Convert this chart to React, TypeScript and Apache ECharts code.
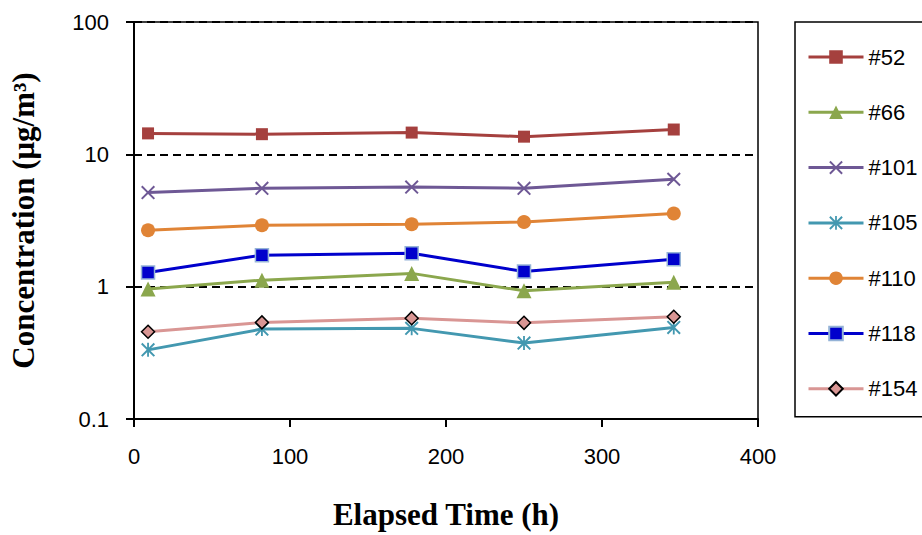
import React, { useEffect, useRef } from "react";
import * as echarts from "echarts";

const times = [9, 82, 178, 250, 346];
const seriesNames = ["#52", "#66", "#101", "#105", "#110", "#118", "#154"];
const s52 = [14.4, 14.2, 14.6, 13.6, 15.4];
const s66 = [0.96, 1.12, 1.26, 0.93, 1.08];
const s101 = [5.14, 5.54, 5.66, 5.54, 6.48];
const s105 = [0.333, 0.478, 0.484, 0.375, 0.492];
const s110 = [2.67, 2.91, 2.96, 3.08, 3.57];
const s118 = [1.28, 1.73, 1.79, 1.3, 1.61];
const s154 = [0.456, 0.537, 0.578, 0.533, 0.592];
const xTicks = [0, 100, 200, 300, 400];
const yTicks = [0.1, 1, 10, 100];

const X_PATH =
  "path://M0,1 L1,0 L5,4 L9,0 L10,1 L6,5 L10,9 L9,10 L5,6 L1,10 L0,9 L4,5 Z";
const STAR_PATH =
  "path://M0,1 L1,0 L5,4 L9,0 L10,1 L6,5 L10,9 L9,10 L5,6 L1,10 L0,9 L4,5 Z M4.35,0 L5.65,0 L5.65,10 L4.35,10 Z";

const SANS = "'Liberation Sans', Arial, sans-serif";
const SERIF = "'Liberation Serif', 'Times New Roman', serif";

export default function App() {
  const ref = useRef<HTMLDivElement>(null);
  useEffect(() => {
    if (!ref.current) return;
    const chart = echarts.init(ref.current, undefined, { renderer: "svg" });
    const pair = (vals: number[]) => times.map((t, i) => [t, vals[i]]);
    const mk = (
      name: string,
      vals: number[],
      color: string,
      symbol: string,
      size: number,
      itemStyle: any
    ) => ({
      name,
      type: "line",
      data: pair(vals),
      symbol,
      symbolSize: size,
      lineStyle: { color, width: 3 },
      itemStyle: { color, ...itemStyle },
      emphasis: { disabled: true },
    });
    const option: any = {
      animation: false,
      backgroundColor: "#fff",
      grid: {
        left: 133.5,
        right: 164,
        top: 22,
        bottom: 114,
        show: true,
        borderColor: "#000",
        borderWidth: 1.5,
        backgroundColor: "transparent",
      },
      legend: {
        orient: "vertical",
        left: 795,
        top: 22,
        padding: [24, 6, 17, 12],
        itemGap: 33.3,
        itemWidth: 55,
        itemHeight: 17,
        borderColor: "#000",
        borderWidth: 1.5,
        data: seriesNames,
        lineStyle: { width: 3 },
        textStyle: {
          fontSize: 22,
          lineHeight: 20,
          color: "#000",
          fontFamily: SANS,
        },
      },
      xAxis: {
        type: "value",
        min: 0,
        max: 400,
        interval: 100,
        name: "Elapsed Time (h)",
        nameLocation: "middle",
        nameGap: 80,
        nameTextStyle: {
          fontFamily: SERIF,
          fontWeight: "bold",
          fontSize: 31,
          color: "#000",
        },
        axisLine: { lineStyle: { color: "#000", width: 2 } },
        axisTick: { show: true, length: 8, lineStyle: { color: "#000", width: 2 } },
        axisLabel: {
          fontFamily: SANS,
          fontSize: 22,
          color: "#000",
          margin: 26,
          formatter: (v: number) => (xTicks.includes(v) ? String(v) : ""),
        },
        splitLine: { show: false },
      },
      yAxis: {
        type: "log",
        logBase: 10,
        min: 0.1,
        max: 100,
        name: "Concentration (μg/m³)",
        nameLocation: "middle",
        nameGap: 95,
        nameRotate: 90,
        nameTextStyle: {
          fontFamily: SERIF,
          fontWeight: "bold",
          fontSize: 31,
          color: "#000",
        },
        axisLine: { show: true, lineStyle: { color: "#000", width: 2 } },
        axisTick: { show: true, length: 8, lineStyle: { color: "#000", width: 2 } },
        axisLabel: {
          fontFamily: SANS,
          fontSize: 22,
          color: "#000",
          margin: 25,
          formatter: (v: number) => {
            const m = yTicks.find((t) => Math.abs(t - v) / t < 1e-6);
            return m !== undefined ? String(m) : "";
          },
        },
        splitLine: {
          show: true,
          lineStyle: { color: "#000", type: [8, 5], width: 2 },
        },
        minorTick: { show: false },
      },
      series: [
        mk("#52", s52, "#A5403E", "rect", 12, {}),
        mk("#66", s66, "#8BA74D", "triangle", 15, {}),
        mk("#101", s101, "#6E5895", X_PATH, 14, {}),
        mk("#105", s105, "#4398B0", STAR_PATH, 14, {}),
        mk("#110", s110, "#E08436", "circle", 14, {}),
        mk("#118", s118, "#0000CC", "rect", 13, {
          borderColor: "#95B3D7",
          borderWidth: 1.5,
        }),
        mk("#154", s154, "#D99694", "diamond", 13, {
          borderColor: "#000",
          borderWidth: 1.5,
        }),
      ],
    };
    chart.setOption(option);
    return () => chart.dispose();
  }, []);
  return (
    <div
      ref={ref}
      style={{ position: "fixed", left: 0, top: 0, width: 922, height: 535, background: "#fff" }}
    />
  );
}
